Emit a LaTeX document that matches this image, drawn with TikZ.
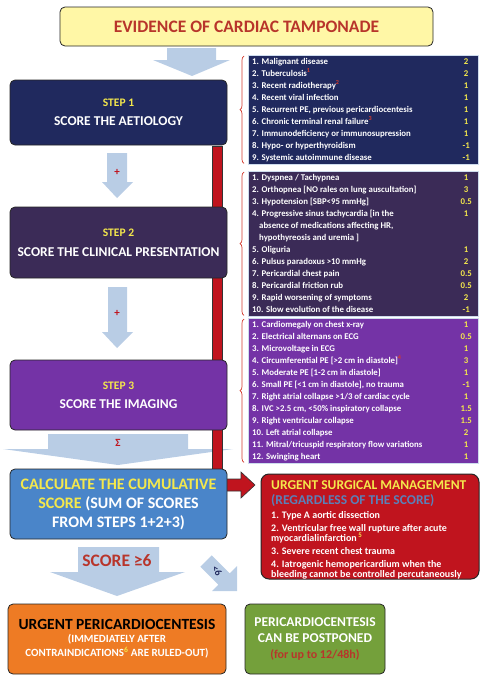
\documentclass[tikz,border=0pt]{standalone}
\usepackage{fontspec}
\setmainfont{Carlito}
\usepackage{array}
\usetikzlibrary{calc,decorations.pathreplacing}

\definecolor{navy}{HTML}{20295E}
\definecolor{plum}{HTML}{3B2B57}
\definecolor{violet}{HTML}{7433A6}
\definecolor{calcblue}{HTML}{4A85C9}
\definecolor{alarmred}{HTML}{C0141E}
\definecolor{tanorange}{HTML}{EE7B24}
\definecolor{leafgreen}{HTML}{74A03B}
\definecolor{arrowblue}{HTML}{B9CDE5}
\definecolor{scoreyellow}{HTML}{F4E84C}
\definecolor{titlefill}{HTML}{FFF7A6}
\definecolor{titlered}{HTML}{B8352B}
\definecolor{steelblue}{HTML}{5A80B8}
\definecolor{bracered}{HTML}{D23A2E}

\newcolumntype{L}{>{\raggedright\arraybackslash}p{206pt}}
\newcolumntype{S}{>{\color{scoreyellow}}w{c}{16pt}}
\newcommand{\redmark}[1]{\textsuperscript{\color{bracered}#1}}

\begin{document}
\begin{tikzpicture}[x=1pt,y=-1pt,font=\bfseries,
  roundbox/.style={draw=black!85,line width=0.8pt,rounded corners=5pt,align=center},
  stepbox/.style={roundbox,minimum width=217pt,text=white,font=\bfseries\fontsize{13.5}{14}\selectfont},
  listbox/.style={anchor=north west,draw=arrowblue!70,line width=0.4pt,inner xsep=4pt,inner ysep=0.5pt,text=white,font=\bfseries\fontsize{8.8}{12}\selectfont},
  brace/.style={draw=bracered,line width=0.7pt,decorate,decoration={brace,amplitude=4pt}},
  fatarrow/.style={fill=arrowblue},
  plus/.style={text=alarmred,font=\bfseries\fontsize{11}{11}\selectfont}]
\useasboundingbox (0,0) rectangle (485,680);

% block arrows
\fill[fatarrow] (167,48) -- (216,48) -- (216,60) -- (230,60) -- (192,76) -- (153,60) -- (167,60) -- cycle;
\fill[fatarrow] (107,153) -- (127,153) -- (127,182) -- (133,182) -- (117,198) -- (102,182) -- (107,182) -- cycle;
\fill[fatarrow] (108,287) -- (127,287) -- (127,332) -- (133,332) -- (117,348) -- (102,332) -- (108,332) -- cycle;
\fill[fatarrow] (48,434) -- (188,434) -- (188,449) -- (233,449) -- (118,465) -- (3,449) -- (48,449) -- cycle;
\fill[fatarrow] (78,547) -- (159,547) -- (159,572) -- (185,572) -- (117,596) -- (50,572) -- (78,572) -- cycle;
\fill[fatarrow] (211.7,555.3) -- (229.7,573.3) -- (237,566) -- (237,591) -- (212,591) -- (218.3,584.7) -- (200.3,566.7) -- cycle;

\node[plus] (plusa) at (117,172) {+};
\node[plus] (plusb) at (117,313) {+};
\node[plus] (sigma) at (118,443) {Σ};
\node[text=titlered,font=\bfseries\fontsize{17.5}{17.5}\selectfont] (ge) at (117,561) {SCORE ≥6};
\node[text=navy,rotate=-58,inner sep=0pt,font=\bfseries\fontsize{10}{10}\selectfont] (lt) at (217,571) {<6};

% red bypass
\filldraw[fill=alarmred,draw=black!80] (212,146) rectangle (222,471);
\filldraw[fill=alarmred,draw=black!80,line width=0.6pt] (222,479) -- (241,479) -- (241,472) -- (255,485) -- (241,498) -- (241,491) -- (222,491);

% title and steps
\node[roundbox,fill=titlefill,text=titlered,minimum width=373pt,minimum height=39pt,
  font=\bfseries\fontsize{17.5}{17.5}\selectfont] (title) at (246.5,26.5) {EVIDENCE OF CARDIAC TAMPONADE};

\node[stepbox,fill=navy,minimum height=65pt] (step1) at (118.5,112.5)
  {{\fontsize{11.5}{11.5}\selectfont\color{scoreyellow}STEP 1}\\[5pt]SCORE THE AETIOLOGY};
\node[stepbox,fill=plum,minimum height=71pt] (step2) at (118.5,242.5)
  {{\fontsize{11.5}{11.5}\selectfont\color{scoreyellow}STEP 2}\\[6pt]SCORE THE CLINICAL PRESENTATION};
\node[stepbox,fill=violet,minimum height=70pt] (step3) at (118.5,395)
  {{\fontsize{11.5}{11.5}\selectfont\color{scoreyellow}STEP 3}\\[5pt]SCORE THE IMAGING};
\node[stepbox,fill=calcblue,minimum height=70pt,font=\bfseries\fontsize{16}{19}\selectfont] (calc) at (118.5,504)
  {{\color{scoreyellow}CALCULATE THE CUMULATIVE}\\{\color{scoreyellow}SCORE} (SUM OF SCORES\\FROM STEPS 1+2+3)};

% score lists
\node[listbox,fill=navy,minimum height=108pt] (aetlist) at (248,55) {\begin{tabular}{@{}L@{}S@{}}
1. Malignant disease & 2\\
2. Tuberculosis\redmark{1} & 2\\
3. Recent radiotherapy\redmark{2} & 1\\
4. Recent viral infection & 1\\
5. Recurrent PE, previous pericardiocentesis & 1\\
6. Chronic terminal renal failure\redmark{3} & 1\\
7. Immunodeficiency or immunosupression & 1\\
8. Hypo- or hyperthyroidism & -1\\
9. Systemic autoimmune disease & -1
\end{tabular}};
\node[listbox,fill=plum,minimum height=144pt] (clinlist) at (248,171) {\begin{tabular}{@{}L@{}S@{}}
1. Dyspnea / Tachypnea & 1\\
2. Orthopnea [NO rales on lung auscultation] & 3\\
3. Hypotension [SBP<95 mmHg] & 0.5\\
4. Progressive sinus tachycardia [in the\newline\hspace*{7pt}absence of medications affecting HR,\newline\hspace*{7pt}hypothyreosis and uremia ] & 1\\
5. Oliguria & 1\\
6. Pulsus paradoxus >10 mmHg & 2\\
7. Pericardial chest pain & 0.5\\
8. Pericardial friction rub & 0.5\\
9. Rapid worsening of symptoms & 2\\
10. Slow evolution of the disease & -1
\end{tabular}};
\node[listbox,fill=violet,minimum height=144pt] (imglist) at (248,318) {\begin{tabular}{@{}L@{}S@{}}
1. Cardiomegaly on chest x-ray & 1\\
2. Electrical alternans on ECG & 0.5\\
3. Microvoltage in ECG & 1\\
4. Circumferential PE [>2 cm in diastole]\redmark{4} & 3\\
5. Moderate PE [1-2 cm in diastole] & 1\\
6. Small PE [<1 cm in diastole], no trauma & -1\\
7. Right atrial collapse >1/3 of cardiac cycle & 1\\
8. IVC >2.5 cm, <50\% inspiratory collapse & 1.5\\
9. Right ventricular collapse & 1.5\\
10. Left atrial collapse & 2\\
11. Mitral/tricuspid respiratory flow variations & 1\\
12. Swinging heart & 1
\end{tabular}};

\foreach \l in {aetlist,clinlist,imglist}
  \draw[brace] ($(\l.south west)+(-4,-1)$) -- ($(\l.north west)+(-4,1)$);

% urgent surgery
\node[roundbox,fill=alarmred,minimum width=218pt,minimum height=105pt,rounded corners=8pt,line width=1pt] (surgery) at (370,526.5) {};
\node[anchor=west,text=scoreyellow,font=\bfseries\fontsize{13.5}{13.5}\selectfont,inner sep=0pt] (surghead) at (271,485) {URGENT SURGICAL MANAGEMENT};
\node[anchor=west,text=steelblue,font=\bfseries\fontsize{13.5}{13.5}\selectfont,inner sep=0pt] (surgnote) at (271,501) {(REGARDLESS OF THE SCORE)};
\node[anchor=north west,text=white,align=left,inner sep=0pt,font=\bfseries\fontsize{10}{9.8}\selectfont] (surgitems) at (271,511)
  {1. Type A aortic dissection\\[3.5pt]
   2. Ventricular free wall rupture after acute\\
   myocardialinfarction\,\textsuperscript{\color{scoreyellow}5}\\[3.5pt]
   3. Severe recent chest trauma\\[3.5pt]
   4. Iatrogenic hemopericardium when the\\
   bleeding cannot be controlled percutaneously};

% outcomes
\node[roundbox,fill=tanorange,minimum width=218pt,minimum height=70pt,text=white,font=\bfseries\fontsize{11}{14}\selectfont] (urgent) at (117,639)
  {{\fontsize{15.5}{15.5}\selectfont\color{black}URGENT PERICARDIOCENTESIS}\\[-1pt](IMMEDIATELY AFTER\\CONTRAINDICATIONS\textsuperscript{\color{scoreyellow}6} ARE RULED-OUT)};
\node[roundbox,fill=leafgreen,minimum width=140pt,minimum height=70pt,text=white,font=\bfseries\fontsize{13.5}{16}\selectfont] (postpone) at (315,639)
  {PERICARDIOCENTESIS\\CAN BE POSTPONED\\{\fontsize{12}{12}\selectfont\color{titlered}(for up to 12/48h)}};

\end{tikzpicture}
\end{document}
